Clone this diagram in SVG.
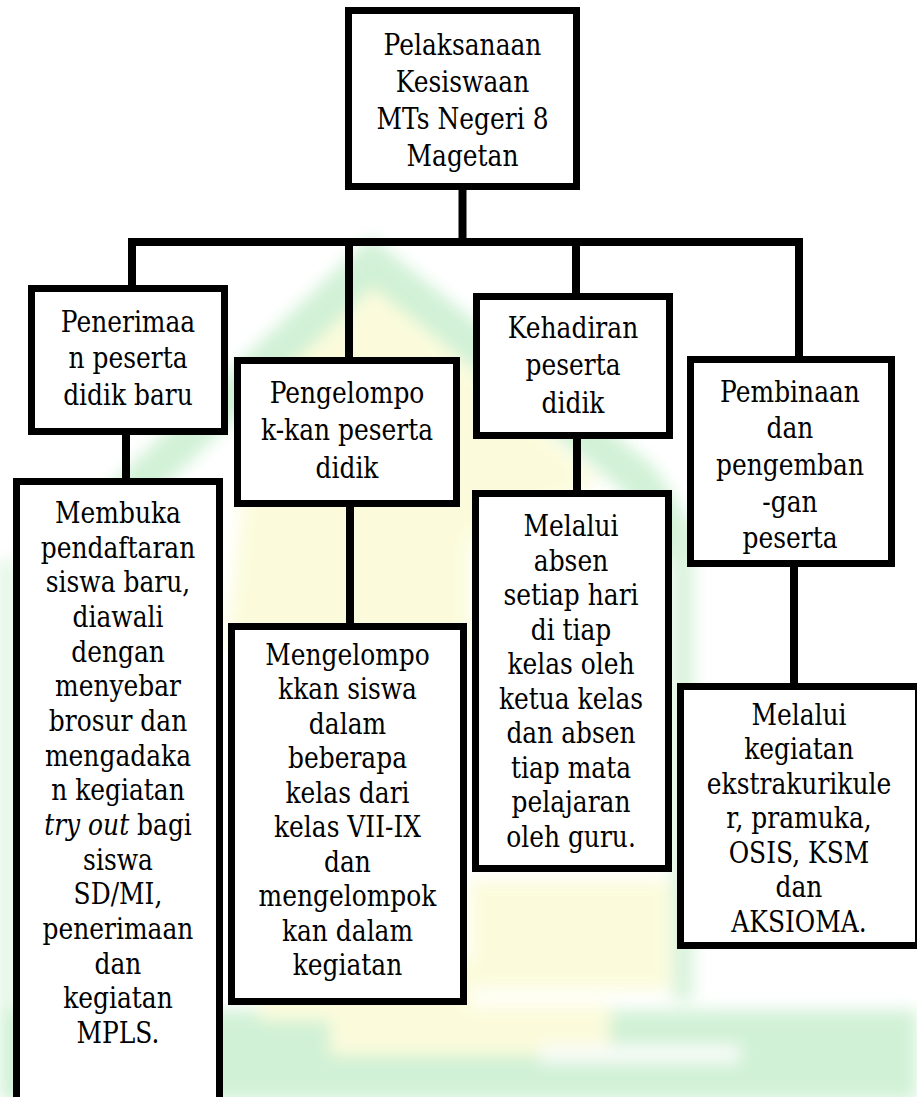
<svg xmlns="http://www.w3.org/2000/svg" width="917" height="1097" viewBox="0 0 917 1097">
<defs>
<style>
.box{fill:#fff;stroke:#000;stroke-width:7}
.conn{fill:none;stroke:#000;stroke-width:8;stroke-linejoin:miter;stroke-linecap:butt}
.t{font-family:'DejaVu Serif',serif;font-size:29px;fill:#000;text-anchor:middle}
</style>
<filter id="blur" x="-20%" y="-20%" width="140%" height="140%"><feGaussianBlur stdDeviation="8"/></filter>
</defs>
<rect x="0" y="0" width="917" height="1097" fill="#fff"/>
<g id="watermark" filter="url(#blur)" opacity="0.85">
<polygon points="372,285 255,395 225,650 470,650 470,540 600,480" fill="#fbfbd6"/>
<polyline points="80,540 372,262 640,480 690,560" fill="none" stroke="#c9efcf" stroke-width="38"/>
<rect x="672" y="520" width="22" height="480" fill="#d3f1d6"/>
<rect x="470" y="880" width="200" height="110" fill="#fbfbd6"/>
<rect x="0" y="560" width="14" height="540" fill="#d6f2da"/>
<rect x="0" y="1010" width="917" height="90" fill="#c9efcf"/>
<rect x="330" y="1005" width="280" height="50" fill="#fbfbd6"/>
<rect x="540" y="1045" width="200" height="18" fill="#f8fcf8"/>
<rect x="260" y="960" width="210" height="60" fill="#fbfbd6"/>
</g>
<g id="connectors">
<path class="conn" d="M132,285 V242 H799 V356"/>
<path class="conn" d="M462.5,190 V242"/>
<path class="conn" d="M349,242 V357"/>
<path class="conn" d="M576,242 V293"/>
<path class="conn" d="M126,435 V478"/>
<path class="conn" d="M350,507 V623"/>
<path class="conn" d="M577,439 V490"/>
<path class="conn" d="M794,567 V683"/>
</g>
<g id="root">
<rect class="box" x="348.5" y="10.5" width="228" height="176"/>
<g transform="translate(462.5 0) scale(0.86 1)">
<text class="t" x="0" y="55">Pelaksanaan</text>
<text class="t" x="0" y="92">Kesiswaan</text>
<text class="t" x="0" y="129">MTs Negeri 8</text>
<text class="t" x="0" y="166">Magetan</text>
</g>
</g>
<g id="penerimaan">
<rect class="box" x="31.5" y="288.5" width="193" height="143"/>
<g transform="translate(128 0) scale(0.86 1)">
<text class="t" x="0" y="332">Penerimaa</text>
<text class="t" x="0" y="368">n peserta</text>
<text class="t" x="0" y="405">didik baru</text>
</g>
</g>
<g id="pengelompokan">
<rect class="box" x="237.5" y="360.5" width="219" height="143"/>
<g transform="translate(347 0) scale(0.86 1)">
<text class="t" x="0" y="403">Pengelompo</text>
<text class="t" x="0" y="440">k-kan peserta</text>
<text class="t" x="0" y="478">didik</text>
</g>
</g>
<g id="kehadiran">
<rect class="box" x="476.5" y="296.5" width="193" height="139"/>
<g transform="translate(573 0) scale(0.86 1)">
<text class="t" x="0" y="338">Kehadiran</text>
<text class="t" x="0" y="375">peserta</text>
<text class="t" x="0" y="413">didik</text>
</g>
</g>
<g id="pembinaan">
<rect class="box" x="690.5" y="359.5" width="201" height="204"/>
<g transform="translate(790 0) scale(0.86 1)">
<text class="t" x="0" y="402">Pembinaan</text>
<text class="t" x="0" y="438">dan</text>
<text class="t" x="0" y="475">pengemban</text>
<text class="t" x="0" y="512">-gan</text>
<text class="t" x="0" y="548">peserta</text>
</g>
</g>
<g id="detail-penerimaan">
<rect class="box" x="16.5" y="481.5" width="203" height="700"/>
<g transform="translate(118 0) scale(0.86 1)">
<text class="t" x="0" y="523">Membuka</text>
<text class="t" x="0" y="557.7">pendaftaran</text>
<text class="t" x="0" y="592.3">siswa baru,</text>
<text class="t" x="0" y="627">diawali</text>
<text class="t" x="0" y="661.7">dengan</text>
<text class="t" x="0" y="696.3">menyebar</text>
<text class="t" x="0" y="731">brosur dan</text>
<text class="t" x="0" y="765.7">mengadaka</text>
<text class="t" x="0" y="800.3">n kegiatan</text>
<text class="t" x="0" y="835"><tspan font-style="italic">try out</tspan> bagi</text>
<text class="t" x="0" y="869.7">siswa</text>
<text class="t" x="0" y="904.3">SD/MI,</text>
<text class="t" x="0" y="939">penerimaan</text>
<text class="t" x="0" y="973.7">dan</text>
<text class="t" x="0" y="1008.3">kegiatan</text>
<text class="t" x="0" y="1043">MPLS.</text>
</g>
</g>
<g id="detail-pengelompokan">
<rect class="box" x="231.5" y="626.5" width="232" height="375"/>
<g transform="translate(347.5 0) scale(0.86 1)">
<text class="t" x="0" y="665">Mengelompo</text>
<text class="t" x="0" y="699.4">kkan siswa</text>
<text class="t" x="0" y="733.9">dalam</text>
<text class="t" x="0" y="768.3">beberapa</text>
<text class="t" x="0" y="802.8">kelas dari</text>
<text class="t" x="0" y="837.2">kelas VII-IX</text>
<text class="t" x="0" y="871.7">dan</text>
<text class="t" x="0" y="906.1">mengelompok</text>
<text class="t" x="0" y="940.6">kan dalam</text>
<text class="t" x="0" y="975">kegiatan</text>
</g>
</g>
<g id="detail-kehadiran">
<rect class="box" x="475.5" y="493.5" width="193" height="375"/>
<g transform="translate(571 0) scale(0.86 1)">
<text class="t" x="0" y="536">Melalui</text>
<text class="t" x="0" y="570.6">absen</text>
<text class="t" x="0" y="605.1">setiap hari</text>
<text class="t" x="0" y="639.7">di tiap</text>
<text class="t" x="0" y="674.2">kelas oleh</text>
<text class="t" x="0" y="708.8">ketua kelas</text>
<text class="t" x="0" y="743.3">dan absen</text>
<text class="t" x="0" y="777.9">tiap mata</text>
<text class="t" x="0" y="812.4">pelajaran</text>
<text class="t" x="0" y="847">oleh guru.</text>
</g>
</g>
<g id="detail-pembinaan">
<rect class="box" x="680.5" y="686.5" width="238" height="259"/>
<g transform="translate(799 0) scale(0.86 1)">
<text class="t" x="0" y="725">Melalui</text>
<text class="t" x="0" y="759.5">kegiatan</text>
<text class="t" x="0" y="794">ekstrakurikule</text>
<text class="t" x="0" y="828.5">r, pramuka,</text>
<text class="t" x="0" y="863">OSIS, KSM</text>
<text class="t" x="0" y="897.5">dan</text>
<text class="t" x="0" y="932">AKSIOMA.</text>
</g>
</g>
</svg>
